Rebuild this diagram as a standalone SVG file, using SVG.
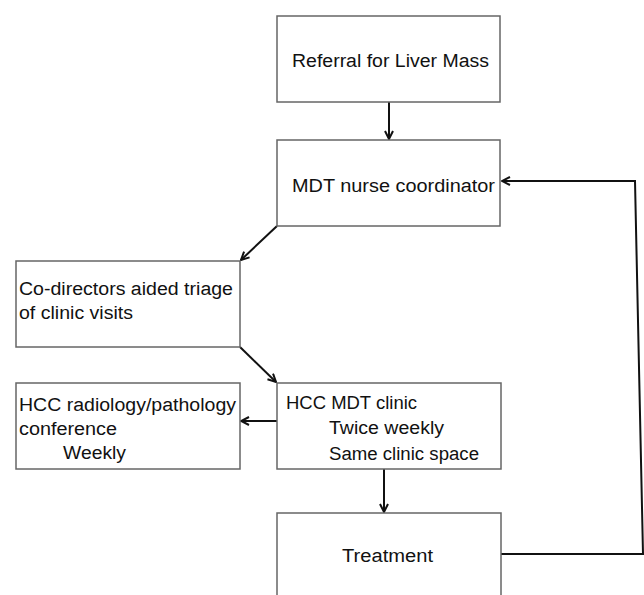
<svg xmlns="http://www.w3.org/2000/svg" width="644" height="595" viewBox="0 0 644 595">
<style>
.box{fill:#fff;stroke:#666;stroke-width:1.5}
.t{font-family:"Liberation Sans",Arial,sans-serif;font-size:18px;fill:#111}
.c{fill:none;stroke:#111;stroke-width:2}
</style>
<defs>
<marker id="ah" viewBox="0 0 10 10" refX="9" refY="5" markerWidth="10" markerHeight="10" markerUnits="userSpaceOnUse" orient="auto">
<path d="M1,1 L9,5 L1,9" fill="none" stroke="#111" stroke-width="2"/>
</marker>
</defs>
<rect width="644" height="595" fill="#fff"/>
<g id="connectors">
<line class="c" x1="389" y1="102" x2="389" y2="139" marker-end="url(#ah)"/>
<line class="c" x1="277" y1="226" x2="241" y2="260" marker-end="url(#ah)"/>
<line class="c" x1="240" y1="347" x2="276" y2="382" marker-end="url(#ah)"/>
<line class="c" x1="277" y1="421" x2="241" y2="421" marker-end="url(#ah)"/>
<line class="c" x1="384" y1="469" x2="384" y2="512" marker-end="url(#ah)"/>
<polyline class="c" points="501,554 643,554 635,181 502,181" marker-end="url(#ah)"/>
</g>
<g id="referral">
<rect class="box" x="277" y="16" width="223" height="86"/>
<text class="t" x="292" y="67" textLength="197" lengthAdjust="spacingAndGlyphs">Referral for Liver Mass</text>
</g>
<g id="nurse">
<rect class="box" x="277" y="140" width="223" height="86"/>
<text class="t" x="292" y="192" textLength="203" lengthAdjust="spacingAndGlyphs">MDT nurse coordinator</text>
</g>
<g id="triage">
<rect class="box" x="16" y="261" width="224" height="86"/>
<text class="t" x="19" y="295" textLength="214" lengthAdjust="spacingAndGlyphs">Co-directors aided triage</text>
<text class="t" x="19" y="319" textLength="114" lengthAdjust="spacingAndGlyphs">of clinic visits</text>
</g>
<g id="conference">
<rect class="box" x="16" y="383" width="224" height="86"/>
<text class="t" x="19" y="411" textLength="217" lengthAdjust="spacingAndGlyphs">HCC radiology/pathology</text>
<text class="t" x="19" y="435" textLength="98" lengthAdjust="spacingAndGlyphs">conference</text>
<text class="t" x="63" y="459" textLength="63" lengthAdjust="spacingAndGlyphs">Weekly</text>
</g>
<g id="clinic">
<rect class="box" x="277" y="383" width="224" height="86"/>
<text class="t" x="286" y="409" textLength="131" lengthAdjust="spacingAndGlyphs">HCC MDT clinic</text>
<text class="t" x="329" y="434" textLength="115" lengthAdjust="spacingAndGlyphs">Twice weekly</text>
<text class="t" x="329" y="460" textLength="150" lengthAdjust="spacingAndGlyphs">Same clinic space</text>
</g>
<g id="treatment">
<rect class="box" x="277" y="513" width="224" height="100"/>
<text class="t" x="342" y="562" textLength="91" lengthAdjust="spacingAndGlyphs">Treatment</text>
</g>
</svg>
